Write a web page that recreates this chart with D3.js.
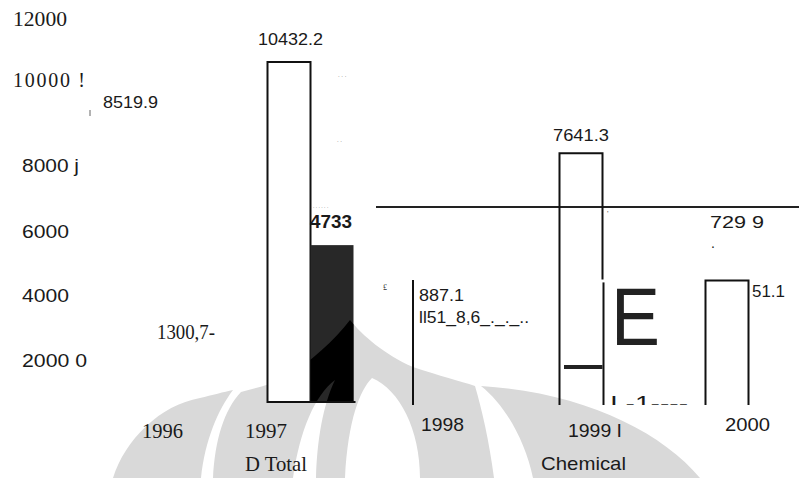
<!DOCTYPE html>
<html><head><meta charset="utf-8">
<script src="https://cdn.jsdelivr.net/npm/d3@7"></script>
<style>html,body{margin:0;padding:0;background:#fff;} svg{display:block}</style>
</head><body><svg id="c" width="799" height="478"></svg>
<script>
// ---------------- data ----------------
const categories     = ["1996", "1997", "1998", "1999", "2000"];
const totalValues    = [null, 10432.2, null, 7641.3, 3751.1];   // outlined bars ("Total")
const chemicalValues = [null, 4830, null, null, null];          // filled bar ("Chemical")
const edgeValues     = [null, null, 3760, 3720, null];          // lone bar edges left by the scan
const lowMarkValues  = [null, null, null, 1101, null];          // thick short mark inside 1999
const refLineValue   = 6000;
const yTickLabels    = ["12000", "10000 !", "8000 j", "6000", "4000", "2000 0"];
const xTickLabels    = ["1996", "1997", "1998", "1999 I", "2000"];
const legendLabels   = ["D Total", "Chemical"];
const valueLabels    = ["10432.2", "8519.9", "4733", "887.1", "ll51_8,6_._._..", "7641.3", "729  9", "51.1", "1300,7-"];

// ---------------- layout ----------------
const W = 799, H = 478;
const svg = d3.select("#c");
const x = d3.scaleBand().domain(categories).range([121, 851]).padding(0);
const y = d3.scaleLinear().domain([0, 10432.2]).range([403, 62]);
const barW = 43, openBottom = 405;
const SANS = "'Liberation Sans', Arial, sans-serif";
const SERIF = "'Liberation Serif', 'Times New Roman', serif";

// watermark shapes (decorative background of the scanned page)
const wm = [
  "M113,478 C125,440 160,405 200,398 C212,395 224,392 233,390 C218,410 205,440 201,478 Z",
  "M213,478 C215,440 224,410 241,392 C255,388 270,385 285,378 C310,362 335,340 350,320 C362,335 385,355 413,367 C440,376 460,381 475,386 C482,410 489,440 494,478 L420,478 C420,430 400,390 372,378 C360,390 348,420 345,478 L316,478 C317,440 323,405 335,380 C315,395 300,430 293,478 Z",
  "M533,478 C525,440 505,405 481,386 C580,392 660,430 700,478 Z"
];
const defs = svg.append("defs");
const clip = defs.append("clipPath").attr("id", "wmclip");
wm.forEach(d => clip.append("path").attr("d", d));
defs.append("clipPath").attr("id", "plotclip").append("rect").attr("x", 0).attr("y", 0).attr("width", W).attr("height", openBottom);

svg.append("g").selectAll("path").data(wm).join("path").attr("d", d => d).attr("fill", "#d9d9d9");

const ink = "#111";

// reference line
svg.append("line").attr("x1", 376).attr("x2", W).attr("y1", y(refLineValue)).attr("y2", y(refLineValue))
  .attr("stroke", "#222").attr("stroke-width", 2);

// total bars
categories.forEach((c, i) => {
  const v = totalValues[i];
  if (v == null) return;
  const x0 = x(c) + 0.5, x1 = x0 + barW, yt = y(v);
  if (c === "1997") {
    svg.append("rect").attr("x", x0).attr("y", yt).attr("width", barW).attr("height", y(0) - 1 - yt)
      .attr("fill", "#fff").attr("stroke", ink).attr("stroke-width", 2);
  } else {
    const e = edgeValues[i];
    const rightEnd = e != null ? y(e) - 2 : openBottom;
    svg.append("path").attr("d", `M${x0},${openBottom}V${yt}H${x1}V${rightEnd}`)
      .attr("fill", "none").attr("stroke", ink).attr("stroke-width", 2);
  }
});

// chemical bars
categories.forEach((c, i) => {
  const v = chemicalValues[i];
  if (v == null) return;
  const x0 = x(c) + 0.5 + barW, yt = y(v);
  svg.append("rect").attr("x", x0).attr("y", yt).attr("width", barW).attr("height", y(0) - 1 - yt).attr("fill", "#282828");
  svg.append("rect").attr("x", x0).attr("y", yt).attr("width", barW).attr("height", y(0) - 1 - yt).attr("fill", "#000")
    .attr("clip-path", "url(#wmclip)");
  svg.append("line").attr("x1", x(c)).attr("x2", x0 + barW + 2).attr("y1", y(0) - 1).attr("y2", y(0) - 1)
    .attr("stroke", ink).attr("stroke-width", 2);
});

// lone edges
categories.forEach((c, i) => {
  const v = edgeValues[i];
  if (v == null) return;
  const xe = c === "1998" ? x(c) : x(c) + barW + 1.5;
  svg.append("line").attr("x1", xe).attr("x2", xe).attr("y1", y(v) + (c === "1998" ? 0 : 1)).attr("y2", openBottom)
    .attr("stroke", ink).attr("stroke-width", 2);
});

// low marks
categories.forEach((c, i) => {
  const v = lowMarkValues[i];
  if (v == null) return;
  svg.append("line").attr("x1", x(c) + 5).attr("x2", x(c) + barW + 0.5).attr("y1", y(v)).attr("y2", y(v))
    .attr("stroke", "#222").attr("stroke-width", 4);
});

// text helper
function txt(s, px, py, size, opts = {}) {
  const t = svg.append("text").attr("x", px).attr("y", py).text(s)
    .attr("font-family", opts.serif ? SERIF : SANS).attr("font-size", size)
    .attr("fill", opts.fill || "#1a1a1a");
  if (opts.bold) t.attr("font-weight", "bold");
  if (opts.len) t.attr("textLength", opts.len).attr("lengthAdjust", opts.spacing ? "spacing" : "spacingAndGlyphs");
  if (opts.clip) t.attr("clip-path", "url(#plotclip)");
  return t;
}

// y tick labels
const yTickPos = [[13, 26, 20, true, 54], [13, 87, 20, true, 72], [22, 172, 19, false, 57], [22, 238, 19, false, 47], [22, 302, 19, false, 47], [22, 367, 19, false, 65]];
yTickLabels.forEach((s, i) => { const p = yTickPos[i]; txt(s, p[0], p[1], p[2], { serif: p[3], len: p[4], spacing: i === 1 }); });

// x tick labels
const xTickPos = [[142, 438, 21, true, 41], [245, 438, 21, true, 42], [421, 431, 19, false, 43], [568, 437, 19, false, 54], [725, 431, 19, false, 45]];
xTickLabels.forEach((s, i) => { const p = xTickPos[i]; txt(s, p[0], p[1], p[2], { serif: p[3], len: p[4] }); });

// legend-like labels
txt(legendLabels[0], 245, 471, 21, { serif: true, len: 62 });
txt(legendLabels[1], 541, 470, 19, { len: 85 });

// value labels
const vPos = [[258, 45, 17, false, 65], [103, 108, 17, false, 55], [310, 228, 19, false, 42], [419, 301, 17, false, 45], [419, 323, 16, false, 110], [553, 141, 17, false, 56], [710, 228, 17, false, 54], [752, 297, 17, false, 33], [157, 339, 20, true, 58]];
valueLabels.forEach((s, i) => { const p = vPos[i]; txt(s, p[0], p[1], p[2], { serif: p[3], len: p[4], bold: i === 2 }); });

// scan artefacts
txt("E", 611, 345, 82, { len: 49, fill: "#222" });
txt("I -1----", 610, 411, 22, { len: 78, clip: true, fill: "#1a1a1a" });
txt("\u00a3", 383, 290, 8, { serif: true, fill: "#333" });
txt(".", 711, 248, 14, {});
txt("'", 607, 216, 8, { fill: "#555" });
svg.append("line").attr("x1", 90).attr("x2", 90).attr("y1", 110).attr("y2", 116).attr("stroke", "#666").attr("stroke-width", 1);
txt(". . .", 338, 77, 6, { fill: "#666" });
txt(". .", 337, 142, 6, { fill: "#666" });
txt(". .   . . . .", 313, 208, 5, { fill: "#666" });
</script></body></html>
